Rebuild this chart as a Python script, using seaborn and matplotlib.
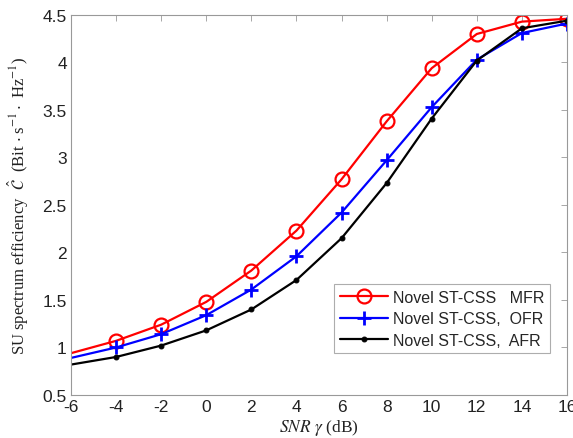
import numpy as np
import pandas as pd
import matplotlib
matplotlib.use('Agg')
import matplotlib.pyplot as plt
import seaborn as sns

# SNR values (dB) and spectrum efficiency for each scheme
snr = [-6, -4, -2, 0, 2, 4, 6, 8, 10, 12, 14, 16]
mfr = [0.94, 1.07, 1.24, 1.48, 1.81, 2.23, 2.77, 3.38, 3.94, 4.30, 4.43, 4.46]
ofr = [0.89, 1.00, 1.14, 1.34, 1.61, 1.96, 2.42, 2.97, 3.53, 4.03, 4.31, 4.41]
afr = [0.82, 0.90, 1.02, 1.18, 1.40, 1.71, 2.15, 2.73, 3.41, 4.02, 4.36, 4.44]
labels = ['Novel ST-CSS   MFR', 'Novel ST-CSS,  OFR', 'Novel ST-CSS,  AFR']
xticks = [-6, -4, -2, 0, 2, 4, 6, 8, 10, 12, 14, 16]
yticks = [0.5, 1, 1.5, 2, 2.5, 3, 3.5, 4, 4.5]

sns.set_style('white')
plt.rcParams['font.family'] = ['Liberation Sans', 'DejaVu Sans']
plt.rcParams['mathtext.fontset'] = 'stix'

df = pd.DataFrame({'snr': snr, 'MFR': mfr, 'OFR': ofr, 'AFR': afr})

fig = plt.figure(figsize=(5.73, 4.39), dpi=100)
ax = fig.add_axes([0.1239, 0.098, 0.8656, 0.8656])

marks = list(range(1, len(snr)))
sns.lineplot(data=df, x='snr', y='MFR', ax=ax, color='red', lw=1.6,
             marker='o', markersize=10, markerfacecolor='none',
             markeredgecolor='red', markeredgewidth=1.6,
             markevery=marks, label=labels[0])
sns.lineplot(data=df, x='snr', y='OFR', ax=ax, color='blue', lw=1.6,
             marker='+', markersize=10, markeredgecolor='blue', markeredgewidth=2,
             markevery=marks, label=labels[1])
sns.lineplot(data=df, x='snr', y='AFR', ax=ax, color='black', lw=1.6,
             marker='o', markersize=3.5, markeredgecolor='black',
             markevery=marks, label=labels[2])

ax.set_xlim(-6, 16)
ax.set_ylim(0.5, 4.5)
ax.set_xticks(xticks)
ax.set_xticklabels([str(t) for t in xticks])
ax.set_yticks(yticks)
ax.set_yticklabels([f'{t:g}' for t in yticks])
ax.tick_params(direction='in', length=4, width=0.6, color='#999999',
               labelsize=12.5, top=True, right=True, labelcolor='#222222', pad=3)
for s in ax.spines.values():
    s.set_color('#999999')
    s.set_linewidth(0.8)

ax.set_xlabel(r'$SNR\ \gamma$ (dB)', fontsize=12.5, family='Liberation Serif',
              color='#222222')
ax.xaxis.set_label_coords(0.5, -0.058, transform=ax.transAxes)
ax.xaxis.label.set_va('top')
ax.set_ylabel(r'SU spectrum efficiency  $\hat{\mathcal{C}}$  (Bit $\cdot$ s$^{\mathrm{-1}}\cdot$ Hz$^{\mathrm{-1}}$)',
              fontsize=12, family='Liberation Serif', color='#222222', labelpad=8)

leg = ax.legend(loc='lower right', bbox_to_anchor=(0.965, 0.11), fontsize=11.5,
                frameon=True, fancybox=False, borderpad=0.35, handlelength=3.0,
                labelspacing=0.4, handletextpad=0.3, borderaxespad=0)
leg.get_frame().set_edgecolor('#999999')
leg.get_frame().set_linewidth(0.8)

fig.savefig('out.png', dpi=100)
